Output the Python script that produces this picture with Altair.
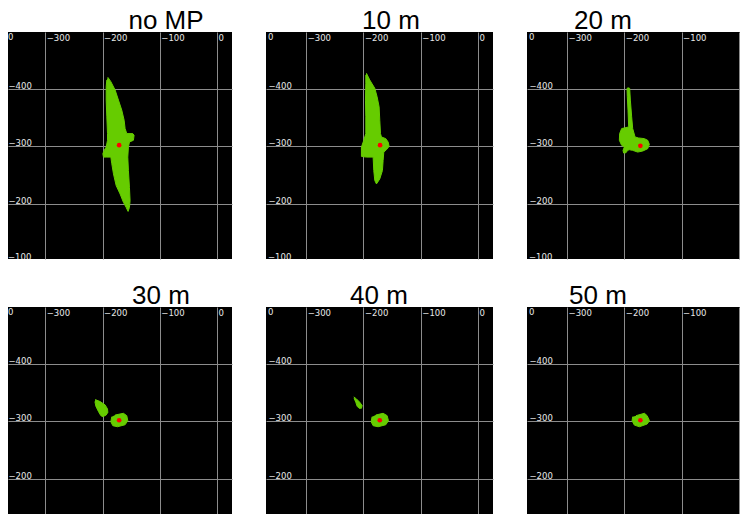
import altair as alt
import pandas as pd

# ---------------- data ----------------
TITLES = ["no MP", "10 m", "20 m", "30 m", "40 m", "50 m"]
X_TICKS = [-300, -200, -100, 0]
Y_TICKS = [-400, -300, -200]
CORNER_LABEL = ["0"]
CUT_LABEL = ["\u2212100"]
CUT_LABEL_VALUE = [-100]

DOT_X = [-171, -171, -172, -171, -171.5, -172]
DOT_Y = [-302, -302, -301, -302, -302, -302]

BLOB_NOMP = [(-190.7, -420.8), (-185.5, -413.2), (-178.0, -398.5), (-172.2, -380.9), (-166.4, -363.3),
             (-162.3, -345.7), (-160.6, -331.1), (-157.7, -322.3), (-147.2, -322.3), (-144.9, -319.4),
             (-146.1, -310.6), (-153.0, -307.6), (-154.8, -298.8), (-155.9, -281.2), (-154.8, -257.8),
             (-153.0, -228.4), (-151.9, -205.0), (-153.0, -193.3), (-155.4, -186.2), (-158.8, -193.3),
             (-163.5, -202.1), (-169.3, -216.7), (-176.2, -231.4), (-180.9, -251.9), (-183.8, -269.5),
             (-185.5, -281.2), (-192.5, -281.2), (-198.3, -281.2), (-199.4, -287.1), (-197.1, -293.0),
             (-193.6, -298.8), (-191.3, -310.6), (-191.3, -322.3), (-192.5, -351.6), (-193.6, -380.9),
             (-193.6, -404.4), (-192.5, -416.1)]

BLOB_10 = [(-194.8, -427.9), (-189.0, -416.1), (-180.2, -401.5), (-176.2, -386.8), (-172.7, -369.2),
           (-171.5, -345.7), (-170.3, -322.3), (-168.6, -316.4), (-161.0, -313.5), (-157.0, -307.6),
           (-155.2, -300.0), (-159.9, -294.1), (-164.5, -290.0), (-165.7, -275.4), (-166.9, -257.8),
           (-171.5, -243.1), (-177.3, -234.3), (-180.2, -240.2), (-182.0, -257.8), (-183.1, -281.2),
           (-194.8, -281.2), (-203.5, -282.4), (-203.5, -298.8), (-199.4, -310.6), (-195.9, -322.3),
           (-195.9, -351.6), (-196.5, -380.9), (-195.9, -410.3), (-195.9, -424.9)]

BLOB_20 = [(-194.2, -402.6), (-190.7, -401.5), (-189.5, -380.9), (-187.2, -351.6), (-185.4, -331.1),
           (-181.3, -316.4), (-175.5, -314.7), (-165.0, -313.5), (-159.2, -310.6), (-156.3, -303.5),
           (-159.2, -295.9), (-167.9, -291.8), (-176.7, -290.0), (-185.4, -293.0), (-191.3, -294.1),
           (-194.2, -293.0), (-197.1, -288.9), (-201.2, -288.3), (-202.3, -293.0), (-200.0, -298.8),
           (-204.7, -301.8), (-208.7, -310.6), (-208.2, -322.3), (-204.7, -331.1), (-197.1, -332.8),
           (-192.4, -334.0), (-193.6, -363.3), (-194.8, -386.8), (-195.3, -401.5)]

BLOB_30_A = [(-212.8, -338.1), (-204.1, -334.6), (-195.4, -328.7), (-191.3, -321.7), (-190.7, -315.8),
             (-193.6, -311.1), (-199.4, -308.2), (-202.9, -310.0), (-207.0, -317.0), (-211.6, -326.4),
             (-213.3, -334.6)]
BLOB_30_B = [(-178.0, -311.1), (-163.5, -314.1), (-157.7, -310.0), (-155.9, -301.2), (-160.6, -294.1),
             (-173.9, -290.6), (-182.0, -292.4), (-185.5, -299.4), (-183.8, -308.2)]

BLOB_40_A = [(-216.9, -342.8), (-212.2, -339.3), (-206.4, -333.4), (-202.3, -327.6), (-203.5, -322.9),
             (-207.6, -322.9), (-211.0, -326.4), (-213.4, -333.4), (-216.3, -340.5)]
BLOB_40_B = [(-178.5, -311.1), (-165.7, -314.1), (-158.7, -310.0), (-156.4, -301.2), (-161.0, -294.1),
             (-174.4, -290.6), (-183.1, -292.4), (-186.6, -299.4), (-184.9, -308.2)]

BLOB_50 = [(-179.5, -310.0), (-164.9, -314.1), (-160.2, -310.0), (-156.1, -301.2), (-160.2, -295.3),
           (-173.7, -290.6), (-182.5, -293.5), (-186.5, -301.2), (-185.4, -308.2)]

PANEL_BLOBS = [[BLOB_NOMP], [BLOB_10], [BLOB_20], [BLOB_30_A, BLOB_30_B], [BLOB_40_A, BLOB_40_B], [BLOB_50]]

# ---------------- style / layout ----------------
GREEN = "#66cc00"
RED = "#ff0000"
GRID = "#8c8c8c"
LBL = "#e8e8e8"
LBL_FONT = "DejaVu Sans"
LBL_SIZE = 8.5
TITLE_FONT = "Liberation Sans"

COL_XDOM = [[-365, 26], [-370, 26], [-370, 2]]
COL_W = [224, 227, 213]
ROW_YDOM = [[-500, -103], [-500, -138]]
ROW_H = [227, 207]
TITLE_X = [158, 125, 76, 153, 113, 71]
TITLE_Y = [-3, -3]
YLAB_PAD = [0, -2, -2]


def panel(i):
    r, c = divmod(i, 3)
    rows = []
    for k, poly in enumerate(PANEL_BLOBS[i]):
        for j, (x, y) in enumerate(poly):
            rows.append({"x": x, "y": y, "shape": k, "i": j})
    df = pd.DataFrame(rows)

    xaxis_kw = dict(orient="top", values=X_TICKS, grid=True, gridColor=GRID, gridWidth=1,
                    domain=False, ticks=False, tickSize=0, labelAlign="left", labelBaseline="top",
                    labelPadding=-1, labelOffset=1, labelFont=LBL_FONT, labelFontSize=LBL_SIZE,
                    labelColor=LBL, labelFlush=False, labelOverlap=False, title=None)
    if c == 2:
        xaxis_kw["labelExpr"] = "datum.value == 0 ? '' : datum.label"
    xaxis = alt.Axis(**xaxis_kw)
    yaxis = alt.Axis(orient="left", values=Y_TICKS, grid=True, gridColor=GRID, gridWidth=1,
                     domain=False, ticks=False, tickSize=0, labelAlign="left",
                     labelBaseline="alphabetic", labelPadding=YLAB_PAD[c], labelOffset=-0.5,
                     labelFont=LBL_FONT, labelFontSize=LBL_SIZE, labelColor=LBL,
                     labelFlush=False, labelOverlap=False, title=None)
    xs = alt.Scale(domain=COL_XDOM[c], nice=False, zero=False)
    ys = alt.Scale(domain=ROW_YDOM[r], nice=False, zero=False, reverse=True)

    blobs = alt.Chart(df).mark_line(fill=GREEN, stroke=GREEN, strokeWidth=1).encode(
        x=alt.X("x:Q", scale=xs, axis=xaxis),
        y=alt.Y("y:Q", scale=ys, axis=yaxis),
        detail="shape:N",
        order="i:Q",
    )
    dot = alt.Chart(pd.DataFrame({"x": [DOT_X[i]], "y": [DOT_Y[i]]})).mark_circle(
        size=22, color=RED, opacity=1).encode(
        x=alt.X("x:Q", scale=xs, axis=xaxis), y=alt.Y("y:Q", scale=ys, axis=yaxis))
    corner = alt.Chart(pd.DataFrame({"t": CORNER_LABEL})).mark_text(
        font=LBL_FONT, fontSize=LBL_SIZE, color=LBL, align="left", baseline="top").encode(
        x=alt.value(0 if c == 0 else 2), y=alt.value(1), text="t:N")
    title = alt.Chart(pd.DataFrame({"t": [TITLES[i]]})).mark_text(
        font=TITLE_FONT, fontSize=26, color="black", align="center", baseline="alphabetic").encode(
        x=alt.value(TITLE_X[i]), y=alt.value(TITLE_Y[r]), text="t:N")
    layers = [blobs, dot, corner, title]
    if r == 0:
        cut = alt.Chart(pd.DataFrame({"t": CUT_LABEL, "y": CUT_LABEL_VALUE})).mark_text(
            font=LBL_FONT, fontSize=LBL_SIZE, color=LBL, align="left", baseline="alphabetic",
            clip=True, dy=-0.5).encode(
            x=alt.value(0 if c == 0 else 2), y=alt.Y("y:Q", scale=ys, axis=yaxis), text="t:N")
        layers.append(cut)
    return alt.layer(*layers).properties(width=COL_W[c], height=ROW_H[r])


chart = alt.concat(*[panel(i) for i in range(6)], columns=3,
                   spacing={"row": 48, "column": 34}, bounds="flush").properties(
    padding=0, background="white"
).configure_view(fill="black", stroke=None)

chart.save("out.html", embed_options={"renderer": "svg", "actions": False})
